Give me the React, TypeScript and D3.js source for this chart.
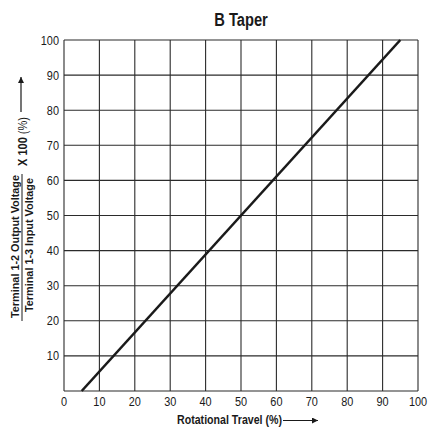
import React, { useEffect, useRef } from 'react'
import * as d3 from 'd3'

// B taper: output ratio vs rotational travel
const travel = [5, 95]
const outputPct = [0, 100]
const xTicks = [0, 10, 20, 30, 40, 50, 60, 70, 80, 90, 100]
const yTicks = [10, 20, 30, 40, 50, 60, 70, 80, 90, 100]

const W = 428
const H = 429
const margin = { top: 40, right: 10, bottom: 38, left: 64 }
const FONT = '"Liberation Sans", Arial, sans-serif'
const INK = '#1a1a1a'
const SQ = 0.84 // horizontal squeeze to mimic a condensed face

export default function App() {
  const ref = useRef<SVGSVGElement>(null)

  useEffect(() => {
    if (!ref.current) return
    const svg = d3.select(ref.current)
    svg.selectAll('*').remove()

    const innerW = W - margin.left - margin.right
    const innerH = H - margin.top - margin.bottom

    const x = d3.scaleLinear().domain([0, 100]).range([0, innerW])
    const y = d3.scaleLinear().domain([0, 100]).range([innerH, 0])

    const defs = svg.append('defs')
    defs.append('marker')
      .attr('id', 'arr')
      .attr('viewBox', '0 0 10 10')
      .attr('refX', 10).attr('refY', 5)
      .attr('markerWidth', 11).attr('markerHeight', 6)
      .attr('markerUnits', 'userSpaceOnUse')
      .attr('orient', 'auto')
      .append('path').attr('d', 'M0,0 L10,5 L0,10 Z').attr('fill', INK)

    const g = svg.append('g').attr('transform', `translate(${margin.left},${margin.top})`)

    // grid
    g.append('g')
      .selectAll('line')
      .data(xTicks)
      .join('line')
      .attr('x1', d => x(d)).attr('x2', d => x(d))
      .attr('y1', 0).attr('y2', innerH)
      .attr('stroke', '#2b2b2b').attr('stroke-width', 1.1)
    g.append('g')
      .selectAll('line')
      .data([0, ...yTicks])
      .join('line')
      .attr('x1', 0).attr('x2', innerW)
      .attr('y1', d => y(d)).attr('y2', d => y(d))
      .attr('stroke', '#2b2b2b').attr('stroke-width', 1.1)

    // tick labels
    g.append('g')
      .selectAll('text')
      .data(xTicks)
      .join('text')
      .attr('transform', d => `translate(${x(d)},${innerH + 14.5}) scale(${SQ},1)`)
      .attr('text-anchor', 'middle')
      .attr('font-family', FONT).attr('font-size', 13)
      .attr('fill', INK)
      .text(d => d)
    g.append('g')
      .selectAll('text')
      .data(yTicks)
      .join('text')
      .attr('transform', d => `translate(-5,${y(d) + 4.5}) scale(${SQ},1)`)
      .attr('text-anchor', 'end')
      .attr('font-family', FONT).attr('font-size', 13)
      .attr('fill', INK)
      .text(d => d)

    // taper line
    const pts = travel.map((t, i) => [t, outputPct[i]] as [number, number])
    g.append('path')
      .datum(pts)
      .attr('d', d3.line<[number, number]>().x(d => x(d[0])).y(d => y(d[1])))
      .attr('stroke', INK).attr('stroke-width', 2.6).attr('fill', 'none')

    // title
    svg.append('text')
      .attr('transform', `translate(241,26) scale(${SQ},1)`)
      .attr('text-anchor', 'middle')
      .attr('font-family', FONT).attr('font-weight', 'bold').attr('font-size', 17.5)
      .attr('fill', INK)
      .text('B Taper')

    // x axis label + arrow
    svg.append('text')
      .attr('x', 177).attr('y', 424)
      .attr('font-family', FONT).attr('font-weight', 'bold').attr('font-size', 12)
      .attr('textLength', 105).attr('lengthAdjust', 'spacingAndGlyphs')
      .attr('fill', INK)
      .text('Rotational Travel (%)')
    svg.append('line')
      .attr('x1', 283).attr('x2', 318).attr('y1', 420.5).attr('y2', 420.5)
      .attr('stroke', INK).attr('stroke-width', 1.2)
      .attr('marker-end', 'url(#arr)')

    // y axis label: fraction x 100 (%)
    const yl = svg.append('g')
    yl.append('text')
      .attr('transform', 'translate(19,318) rotate(-90)')
      .attr('font-family', FONT).attr('font-weight', 'bold').attr('font-size', 11.5)
      .attr('textLength', 143).attr('lengthAdjust', 'spacingAndGlyphs')
      .attr('fill', INK)
      .text('Terminal 1-2 Output Voltage')
    yl.append('line')
      .attr('x1', 22).attr('x2', 22).attr('y1', 174).attr('y2', 321)
      .attr('stroke', INK).attr('stroke-width', 1)
    yl.append('text')
      .attr('transform', 'translate(33,312) rotate(-90)')
      .attr('font-family', FONT).attr('font-weight', 'bold').attr('font-size', 11.5)
      .attr('textLength', 134).attr('lengthAdjust', 'spacingAndGlyphs')
      .attr('fill', INK)
      .text('Terminal 1-3 Input Voltage')
    const xl = yl.append('text')
      .attr('transform', 'translate(27,166) rotate(-90)')
      .attr('font-family', FONT).attr('font-size', 12)
      .attr('textLength', 49).attr('lengthAdjust', 'spacingAndGlyphs')
      .attr('fill', INK)
    xl.append('tspan').attr('font-weight', 'bold').text('X 100 ')
    xl.append('tspan').text('(%)')
    yl.append('line')
      .attr('x1', 21).attr('x2', 21).attr('y1', 112).attr('y2', 77)
      .attr('stroke', INK).attr('stroke-width', 1.2)
      .attr('marker-end', 'url(#arr)')
  }, [])

  return (
    <svg
      ref={ref}
      width={W}
      height={H}
      style={{ position: 'absolute', left: 0, top: 0, background: '#fff' }}
    />
  )
}
